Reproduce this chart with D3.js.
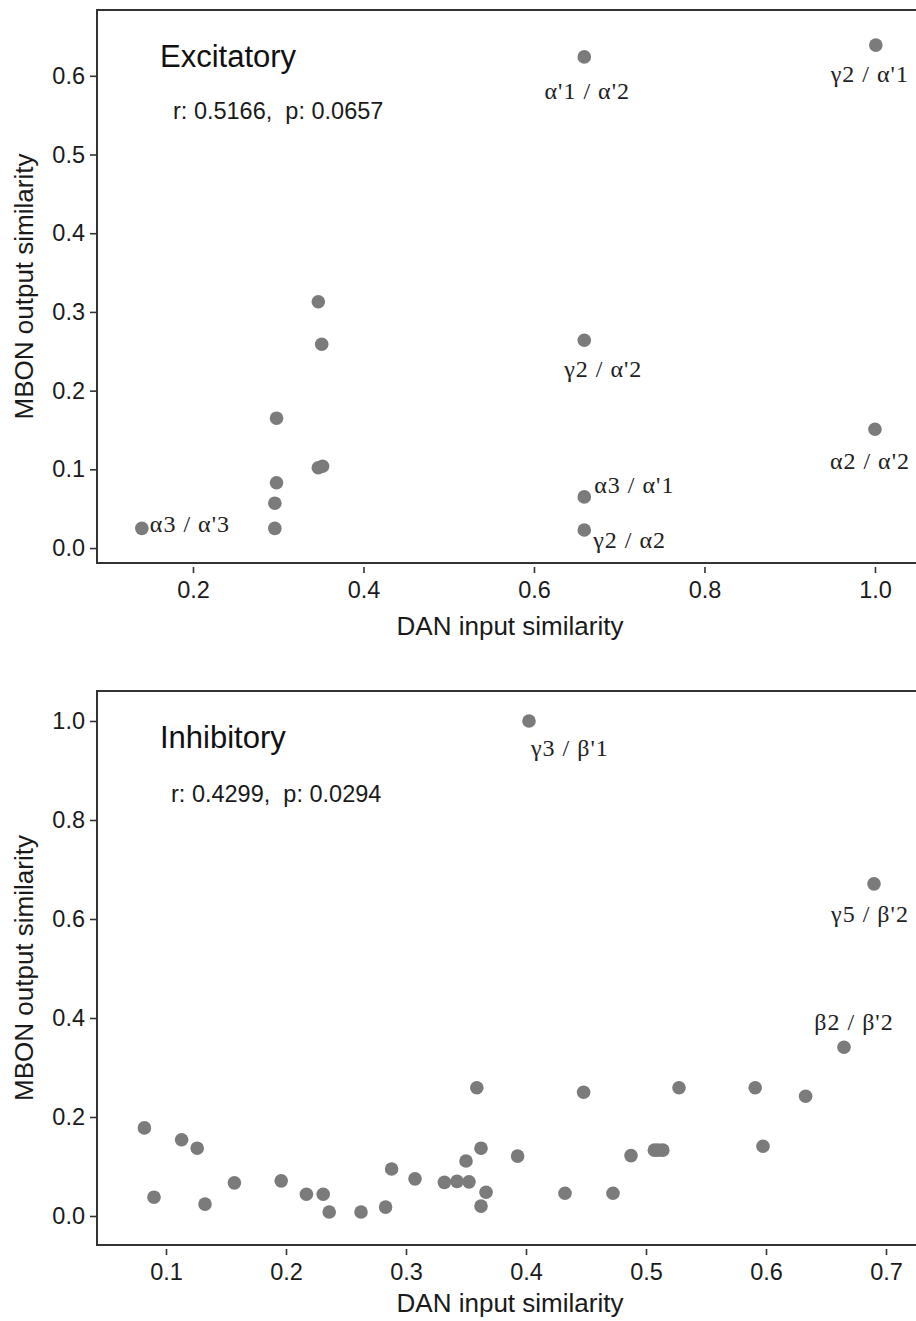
<!DOCTYPE html>
<html>
<head>
<meta charset="utf-8">
<script src="https://cdn.jsdelivr.net/npm/d3@7"></script>
<style>
  html, body { margin: 0; padding: 0; background: #fff; }
  svg { display: block; }
  .tick text { font-family: "Liberation Sans", Arial, sans-serif; font-size: 23.5px; fill: #1a1a1a; }
  .axis-title { font-family: "Liberation Sans", Arial, sans-serif; font-size: 26px; fill: #1a1a1a; }
  .panel-title { font-family: "Liberation Sans", Arial, sans-serif; font-size: 31px; fill: #111; }
  .stats { font-family: "Liberation Sans", Arial, sans-serif; font-size: 23.5px; fill: #1a1a1a; white-space: pre; }
  .pair-label { font-family: "Liberation Serif", "Times New Roman", serif; font-size: 24px; fill: #222; letter-spacing: 1px; }
</style>
</head>
<body>
<script>
// ---- Excitatory compartment pairs ----
const excX = [0.140, 0.296, 0.296, 0.298, 0.298, 0.347, 0.351, 0.347, 0.352,
              0.659, 1.001, 0.659, 1.000, 0.659, 0.659];
const excY = [0.025, 0.025, 0.057, 0.083, 0.165, 0.313, 0.259, 0.102, 0.104,
              0.624, 0.639, 0.264, 0.151, 0.065, 0.023];
const excLabels = ["α3 / α'3", "", "", "", "", "", "", "", "",
                   "α'1 / α'2", "γ2 / α'1", "γ2 / α'2", "α2 / α'2", "α3 / α'1", "γ2 / α2"];
const excXTicks = [0.2, 0.4, 0.6, 0.8, 1.0];
const excYTicks = [0.0, 0.1, 0.2, 0.3, 0.4, 0.5, 0.6];
const excStats = "r: 0.5166,  p: 0.0657";

// ---- Inhibitory compartment pairs ----
const inhX = [0.082, 0.090, 0.113, 0.126, 0.1325, 0.157, 0.196, 0.217, 0.231, 0.236,
              0.2625, 0.283, 0.288, 0.3075, 0.332, 0.3425, 0.350, 0.3525, 0.359, 0.3625,
              0.3667, 0.3625, 0.393, 0.4025, 0.4325, 0.448, 0.4725, 0.4875, 0.507, 0.510,
              0.514, 0.5275, 0.591, 0.5975, 0.633, 0.665, 0.690];
const inhY = [0.178, 0.038, 0.154, 0.137, 0.024, 0.067, 0.071, 0.044, 0.044, 0.008,
              0.008, 0.018, 0.095, 0.075, 0.068, 0.070, 0.111, 0.069, 0.259, 0.137,
              0.048, 0.020, 0.121, 1.000, 0.046, 0.250, 0.046, 0.122, 0.133, 0.133,
              0.133, 0.259, 0.259, 0.141, 0.242, 0.341, 0.671];
const inhLabels = inhX.map(() => "");
inhLabels[23] = "γ3 / β'1";
inhLabels[35] = "β2 / β'2";
inhLabels[36] = "γ5 / β'2";
const inhXTicks = [0.1, 0.2, 0.3, 0.4, 0.5, 0.6, 0.7];
const inhYTicks = [0.0, 0.2, 0.4, 0.6, 0.8, 1.0];
const inhStats = "r: 0.4299,  p: 0.0294";

// label placement relative to each marker: [dx, dy, text-anchor]
const labelPlacement = {
  "α3 / α'3": [8, 4, "start"],
  "α'1 / α'2": [3, 42, "middle"],
  "γ2 / α'1": [-6, 37, "middle"],
  "γ2 / α'2": [19, 37, "middle"],
  "α2 / α'2": [-5, 40, "middle"],
  "α3 / α'1": [10, -4, "start"],
  "γ2 / α2": [9, 18, "start"],
  "γ3 / β'1": [2, 35, "start"],
  "γ5 / β'2": [-4, 38, "middle"],
  "β2 / β'2": [10, -17, "middle"]
};

const W = 916, H = 1321;
const svg = d3.select("body").append("svg").attr("width", W).attr("height", H);
svg.append("rect").attr("width", W).attr("height", H).attr("fill", "#fff");

const AXIS = "#333";
const DOT = "#7b7b7b";

function panel(cfg) {
  const x = d3.scaleLinear().domain(cfg.xDomain).range([cfg.left, cfg.right]);
  const y = d3.scaleLinear().domain(cfg.yDomain).range([cfg.bottom, cfg.top]);
  const g = svg.append("g");

  // frame (right edge runs past the canvas)
  g.append("path")
    .attr("d", `M${cfg.right},${cfg.top}H${cfg.left}V${cfg.bottom}H${cfg.right}`)
    .attr("fill", "none").attr("stroke", AXIS).attr("stroke-width", 2);

  // y axis
  const ya = g.append("g").attr("transform", `translate(${cfg.left},0)`)
    .call(d3.axisLeft(y).tickValues(cfg.yTicks).tickFormat(d3.format(".1f")).tickSize(7).tickPadding(5));
  ya.select(".domain").remove();
  ya.selectAll(".tick line").attr("stroke", AXIS).attr("stroke-width", 1.6);

  // x axis, ticks detached slightly below the frame
  const xa = g.append("g").attr("transform", `translate(0,${cfg.bottom})`)
    .call(d3.axisBottom(x).tickValues(cfg.xTicks).tickFormat(d3.format(".1f")).tickSize(6).tickPadding(12));
  xa.select(".domain").remove();
  xa.selectAll(".tick line").attr("y1", 4).attr("y2", 10).attr("stroke", AXIS).attr("stroke-width", 1.6);

  // axis titles
  g.append("text").attr("class", "axis-title")
    .attr("x", 510).attr("y", cfg.bottom + cfg.xTitleDy).attr("text-anchor", "middle")
    .text("DAN input similarity");
  g.append("text").attr("class", "axis-title")
    .attr("transform", `translate(33,${(cfg.top + cfg.bottom) / 2}) rotate(-90)`)
    .attr("text-anchor", "middle")
    .text("MBON output similarity");

  // panel title and correlation
  g.append("text").attr("class", "panel-title")
    .attr("x", 160).attr("y", cfg.top + 57).text(cfg.title);
  g.append("text").attr("class", "stats")
    .attr("x", cfg.statsX).attr("y", cfg.top + cfg.statsDy).text(cfg.stats);

  const pts = cfg.xs.map((v, i) => ({ x: v, y: cfg.ys[i], label: cfg.labels[i] }));

  g.append("g").selectAll("circle").data(pts).join("circle")
    .attr("cx", d => x(d.x)).attr("cy", d => y(d.y)).attr("r", 6.8)
    .attr("fill", DOT);

  g.append("g").selectAll("text").data(pts.filter(d => d.label)).join("text")
    .attr("class", "pair-label")
    .attr("x", d => x(d.x) + labelPlacement[d.label][0])
    .attr("y", d => y(d.y) + labelPlacement[d.label][1])
    .attr("text-anchor", d => labelPlacement[d.label][2])
    .text(d => d.label);
}

panel({
  left: 97, right: 925, top: 10, bottom: 563,
  xDomain: [0.0874, 1.0587], yDomain: [-0.019, 0.6836],
  xTicks: excXTicks, yTicks: excYTicks,
  xs: excX, ys: excY, labels: excLabels,
  title: "Excitatory", stats: excStats, statsX: 173, statsDy: 109, xTitleDy: 72
});

panel({
  left: 97, right: 925, top: 691, bottom: 1245,
  xDomain: [0.0425, 0.7325], yDomain: [-0.0586, 1.0606],
  xTicks: inhXTicks, yTicks: inhYTicks,
  xs: inhX, ys: inhY, labels: inhLabels,
  title: "Inhibitory", stats: inhStats, statsX: 171, statsDy: 111, xTitleDy: 67
});
</script>
</body>
</html>
